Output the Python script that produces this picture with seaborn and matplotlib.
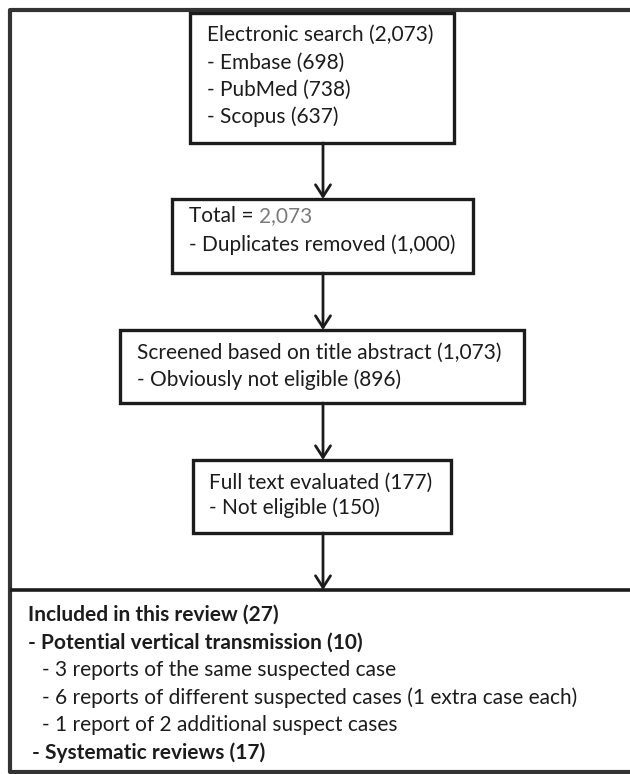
import matplotlib
matplotlib.use('Agg')
import matplotlib.pyplot as plt
import matplotlib.patches as mpatches
import seaborn as sns

# flow stages (text only)
search_lines = ['Electronic search (2,073)', '- Embase (698)', '- PubMed (738)', '- Scopus (637)']
total_label = 'Total = '
total_value = '2,073'
dup_line = '- Duplicates removed (1,000)'
screen_lines = ['Screened based on title abstract (1,073)', '- Obviously not eligible (896)']
full_lines = ['Full text evaluated (177)', '- Not eligible (150)']
incl_lines = ['Included in this review (27)',
              '- Potential vertical transmission (10)',
              '- 3 reports of the same suspected case',
              '- 6 reports of different suspected cases (1 extra case each)',
              '- 1 report of 2 additional suspect cases',
              '- Systematic reviews (17)']
incl_bold = [True, True, False, False, False, True]
incl_indent = [0, 0, 14, 14, 14, 4]

sns.set_theme(style='white')
plt.rcParams['font.family'] = ['Lato', 'DejaVu Sans']

fig = plt.figure(figsize=(6.3, 7.74), dpi=100)
ax = fig.add_axes([0, 0, 1, 1])
ax.set_xlim(0, 630)
ax.set_ylim(774, 0)
ax.axis('off')

FS = 15
INK = '#1c1c1c'

def box(x0, y0, x1, y1, lw=2.4):
    ax.add_patch(mpatches.Rectangle((x0, y0), x1 - x0, y1 - y0, fill=False,
                                    edgecolor=INK, lw=lw, zorder=2))

def arrow(x, y0, y1):
    ax.annotate('', xy=(x, y1), xytext=(x, y0),
                arrowprops=dict(arrowstyle='->,head_length=0.7,head_width=0.45',
                                lw=2, color=INK, shrinkA=0, shrinkB=0))

def lines(x, ys, texts, weights=None):
    for i, (y, t) in enumerate(zip(ys, texts)):
        w = 'bold' if weights and weights[i] else 'normal'
        ax.text(x, y, t, fontsize=FS, va='center', ha='left', color=INK, fontweight=w)

# outer frame (open on the right side)
ax.plot([630, 10, 10, 630], [10, 10, 772, 772], color='#333333', lw=3, solid_capstyle='butt')

# box 1
box(190, 13, 454, 143)
lines(207, [35, 63, 90, 117], search_lines)
arrow(323, 143, 199)

# box 2
box(172, 199, 473, 273)
t = ax.text(189, 216, total_label, fontsize=FS, va='center', ha='left', color=INK)
fig.canvas.draw()
bb = t.get_window_extent().transformed(ax.transData.inverted())
ax.text(bb.x1, 216, total_value, fontsize=FS, va='center', ha='left', color='#7a7a7a')
lines(189, [245], [dup_line])
arrow(323, 273, 330)

# box 3
box(120, 330, 524, 403)
lines(137, [353, 380], screen_lines)
arrow(323, 403, 460)

# box 4
box(193, 460, 451, 533)
lines(209, [483, 508], full_lines)
arrow(323, 533, 590)

# bottom box
ax.plot([630, 10], [590, 590], color=INK, lw=2.6, solid_capstyle='butt')
ys = [615, 643, 670, 698, 725, 753]
for y, txt, b, ind in zip(ys, incl_lines, incl_bold, incl_indent):
    ax.text(28 + ind, y, txt, fontsize=FS, va='center', ha='left', color=INK,
            fontweight='bold' if b else 'normal')

fig.savefig('out.png', dpi=100)
